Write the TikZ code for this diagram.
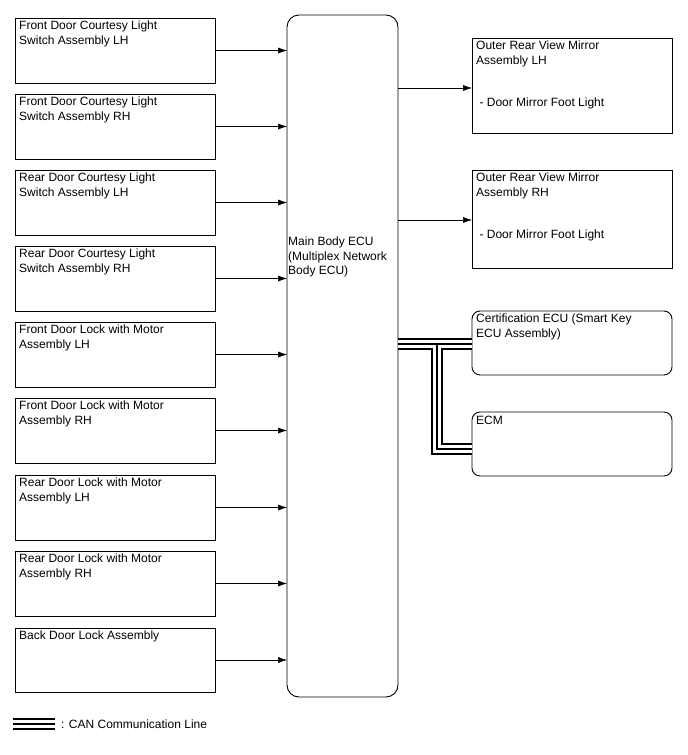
\documentclass[tikz,border=0pt]{standalone}
\usepackage{fontspec}
\setmainfont{Liberation Sans}
\usetikzlibrary{arrows.meta}

\begin{document}
\begin{tikzpicture}[x=1pt,y=-1pt,
    box/.style={draw,line width=0.9pt},
    txt/.style={anchor=north west,align=left,inner sep=0pt,
      font=\fontsize{12}{14.5}\selectfont},
    sig/.style={line width=0.5pt,-{Latex[length=9pt,width=6pt]}}]
  \useasboundingbox (0,0) rectangle (688,755);

  % main ECU
  \draw[box,rounded corners=12pt] (287,15) rectangle (398,697);
  \coordinate (mainNW) at (287,15);
  \coordinate (mainSE) at (398,697);
  \node[txt] (maintxt) at (288,237)
    {Main Body ECU\\(Multiplex Network\\Body ECU)};

  % switches and door locks on the left
  \foreach \t/\b/\lbl [count=\i] in {
      18/83/{Front Door Courtesy Light\\Switch Assembly LH},
      94/159/{Front Door Courtesy Light\\Switch Assembly RH},
      170/235/{Rear Door Courtesy Light\\Switch Assembly LH},
      246/311/{Rear Door Courtesy Light\\Switch Assembly RH},
      322/387/{Front Door Lock with Motor\\Assembly LH},
      398/463/{Front Door Lock with Motor\\Assembly RH},
      475/540/{Rear Door Lock with Motor\\Assembly LH},
      551/616/{Rear Door Lock with Motor\\Assembly RH},
      628/692/{Back Door Lock Assembly}} {
    \draw[box] (15,\t) rectangle (215,\b);
    \node[txt] (in\i) at (19,\t+3) {\lbl};
    \coordinate (out\i) at (215,{(\t+\b)/2});
    \draw[sig] (out\i) -- (mainNW |- out\i);
  }

  % mirrors
  \foreach \t/\b/\side [count=\i] in {38/133/LH, 170/268/RH} {
    \draw[box] (472,\t) rectangle (672,\b);
    \node[txt] (mir\i) at (476,\t+3) {Outer Rear View Mirror\\Assembly \side};
    \node[txt] (foot\i) at (476,\t+60) {\ - Door Mirror Foot Light};
    \coordinate (mirin\i) at (472,{\t+50});
    \draw[sig] (mainSE |- mirin\i) -- (mirin\i);
  }

  % CAN connected ECUs
  \draw[box,rounded corners=8pt] (472,311) rectangle (672,375);
  \node[txt] (cert) at (476,314) {Certification ECU (Smart Key\\ECU Assembly)};
  \draw[box,rounded corners=8pt] (472,412) rectangle (672,476);
  \node[txt] (ecm) at (476,416) {ECM};
  \coordinate (certin) at (472,344);
  \coordinate (ecmin) at (472,449);
  \coordinate (junc) at (437,344);

  \foreach \w/\c in {12/black,8.5/white,2/black}
    \draw[line width=\w pt,\c] (mainSE |- certin) -- (certin)
      (junc) |- (ecmin);

  % legend
  \coordinate (legA) at (13,724);
  \coordinate (legB) at (55,724);
  \foreach \w/\c in {12/black,8.5/white,2/black}
    \draw[line width=\w pt,\c] (legA) -- (legB);
  \node[txt,anchor=west] (legtxt) at (61,724) {: CAN Communication Line};
\end{tikzpicture}
\end{document}
